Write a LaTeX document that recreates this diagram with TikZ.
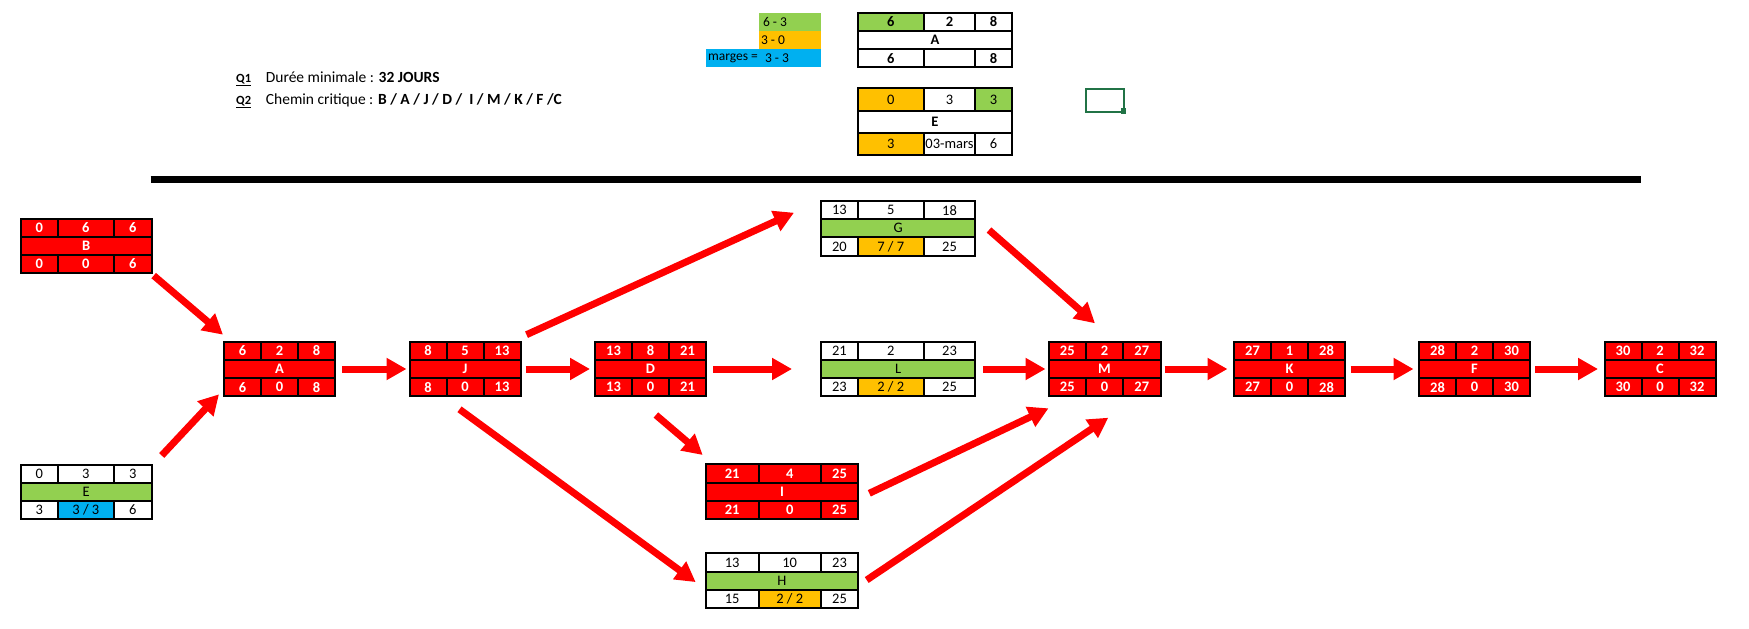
\documentclass[tikz,border=0pt]{standalone}
\usepackage{fontspec}
\setmainfont{Carlito}
\usetikzlibrary{arrows.meta}
\definecolor{xred}{HTML}{FF0000}
\definecolor{xgreen}{HTML}{92D050}
\definecolor{xorange}{HTML}{FFC000}
\definecolor{xblue}{HTML}{00B0F0}
\definecolor{xsel}{HTML}{217346}
\def\rh{18.2}
\newcommand\cellfont{\fontsize{14.5}{15}\selectfont}
\newcommand\geom[5]{\def\gX{#1}\def\gA{#2}\def\gB{#3}\def\gR{#4}\def\gY{#5}}
\newcommand\pert[9]{%
 \begin{scope}[#2]%
 \node[cell,tl,minimum width={\gA-\gX},anchor=north west] (#1-tl) at (\gX,\gY) {#3};%
 \node[cell,tm,minimum width={\gB-\gA},anchor=north west] (#1-tm) at (\gA,\gY) {#4};%
 \node[cell,tr,minimum width={\gR-\gB},anchor=north west] (#1-tr) at (\gB,\gY) {#5};%
 \node[cell,md,minimum width={\gR-\gX},anchor=north west] (#1-md) at (\gX,\gY+\rh) {#6};%
 \node[cell,bl,minimum width={\gA-\gX},anchor=north west] (#1-bl) at (\gX,\gY+2*\rh) {#7};%
 \node[cell,bm,minimum width={\gB-\gA},anchor=north west] (#1-bm) at (\gA,\gY+2*\rh) {#8};%
 \node[cell,br,minimum width={\gR-\gB},anchor=north west] (#1-br) at (\gB,\gY+2*\rh) {#9};%
 \node[frame,minimum width={\gR-\gX},minimum height={3*\rh},anchor=north west] (#1) at (\gX,\gY) {};%
 \end{scope}}
\tikzset{
 cell/.style={draw=black,line width=2pt,inner sep=0pt,outer sep=0pt,minimum height=\rh,fill=white,text=black,font=\cellfont},
 frame/.style={inner sep=0pt,outer sep=0pt},
 tl/.style={},tm/.style={},tr/.style={},md/.style={},bl/.style={},bm/.style={},br/.style={},
 redbox/.style={cell/.append style={fill=xred,text=white,font=\cellfont\bfseries}},
 whitebox/.style={md/.style={fill=xgreen}},
 arr/.style={draw=xred,line width=7pt,-{Triangle[length=20pt,width=21pt]}},
 legtxt/.style={inner sep=0pt,outer sep=0pt,anchor=west,font=\fontsize{13.5}{14}\selectfont},
}
\begin{document}
\begin{tikzpicture}[x=1pt,y=-1pt]
\useasboundingbox (0,0) rectangle (1749,629);
% ---------- top part ----------
\fill[xgreen] (759,12.7) rectangle (821,31);
\fill[xorange] (759,31) rectangle (821,49.3);
\fill[xblue] (706,49.3) rectangle (821,66.7);
\node[legtxt] (l1) at (763,22) {6 - 3};
\node[legtxt] (l2) at (761,40.2) {3 - 0};
\node[legtxt] (l3) at (708,58.2) {marges =};
\node[legtxt] (l4) at (765,58.2) {3 - 3};

\node[inner sep=0pt,anchor=base west,font=\bfseries\fontsize{12.5}{13}\selectfont] (q1) at (236,82.5) {\underline{Q1}};
\node[inner sep=0pt,anchor=base west,font=\fontsize{15.5}{16}\selectfont] (t1) at (265.7,82.3) {Durée minimale : \textbf{32 JOURS}};
\node[inner sep=0pt,anchor=base west,font=\bfseries\fontsize{12.5}{13}\selectfont] (q2) at (236,104.5) {\underline{Q2}};
\node[inner sep=0pt,anchor=base west,font=\fontsize{15.5}{16}\selectfont] (t2) at (265.7,104.3) {Chemin critique : \textbf{B / A / J / D /\ \ I / M / K / F /C}};

\geom{857.7}{924}{975}{1012.3}{12.7}
\pert{tA}{cell/.append style={font=\cellfont\bfseries},tl/.style={fill=xgreen}}{6}{2}{8}{A}{6}{}{8}
\begingroup\def\rh{22.2}
\geom{857.7}{924}{975}{1012.3}{88.3}
\pert{tE}{tl/.style={fill=xorange},tr/.style={fill=xgreen},bl/.style={fill=xorange},md/.style={font=\cellfont\bfseries}}{0}{3}{3}{E}{3}{03-mars}{6}
\endgroup
\draw[xsel,line width=2pt] (1085.7,88.7) rectangle (1124.3,112);
\fill[xsel] (1120.7,108.3) rectangle (1125.7,113.7);

\draw[line width=7pt] (150.7,179.2) -- (1641,179.2);

% ---------- network ----------
\geom{20.7}{57.7}{114}{151.7}{218.5}
\pert{B}{redbox}{0}{6}{6}{B}{0}{0}{6}
\geom{20.7}{57.7}{114}{151.7}{464.5}
\pert{E}{whitebox,bm/.style={fill=xblue}}{0}{3}{3}{E}{3}{3 / 3}{6}
\geom{224}{261}{298}{335}{341.7}
\pert{A}{redbox}{6}{2}{8}{A}{6}{0}{8}
\geom{409.5}{446.5}{483.5}{520.5}{341.7}
\pert{J}{redbox}{8}{5}{13}{J}{8}{0}{13}
\geom{595}{632}{669}{706}{341.7}
\pert{D}{redbox}{13}{8}{21}{D}{13}{0}{21}
\geom{821}{857.7}{923.7}{975.3}{201}
\pert{G}{whitebox,bm/.style={fill=xorange}}{13}{5}{18}{G}{20}{7 / 7}{25}
\geom{821}{857.7}{923.7}{975.3}{341.7}
\pert{L}{whitebox,bm/.style={fill=xorange}}{21}{2}{23}{L}{23}{2 / 2}{25}
\geom{705.7}{758.7}{820.7}{858.3}{464.3}
\pert{I}{redbox}{21}{4}{25}{I}{21}{0}{25}
\geom{705.7}{758.7}{820.7}{858.3}{553.3}
\pert{H}{whitebox,bm/.style={fill=xorange}}{13}{10}{23}{H}{15}{2 / 2}{25}
\geom{1048.5}{1086}{1123}{1160.5}{341.7}
\pert{M}{redbox}{25}{2}{27}{M}{25}{0}{27}
\geom{1234}{1271}{1308}{1345}{341.7}
\pert{K}{redbox}{27}{1}{28}{K}{27}{0}{28}
\geom{1419}{1456}{1493}{1530}{341.7}
\pert{F}{redbox}{28}{2}{30}{F}{28}{0}{30}
\geom{1604.5}{1641.5}{1678.5}{1715.5}{341.7}
\pert{C}{redbox}{30}{2}{32}{C}{30}{0}{32}

% ---------- connectors ----------
\draw[arr] ([shift={(2,2.5)}]B.south east) -- ([shift={(-1,-7)}]A.north west);
\draw[arr] ([shift={(10,-9)}]E.north east) -- ([shift={(-5,-2)}]A.south west);
\draw[arr] ([shift={(7,0)}]A.east) -- ([shift={(-3,0)}]J.west);
\draw[arr] ([shift={(5,0)}]J.east) -- ([shift={(-5,0)}]D.west);
\draw[arr] ([shift={(7,0)}]D.east) -- ([shift={(-29,0)}]L.west);
\draw[arr] ([shift={(7.5,0)}]L.east) -- ([shift={(-3,0)}]M.west);
\draw[arr] ([shift={(4,0)}]M.east) -- ([shift={(-6.5,0)}]K.west);
\draw[arr] ([shift={(5.5,0)}]K.east) -- ([shift={(-5.5,0)}]F.west);
\draw[arr] ([shift={(5,0)}]F.east) -- ([shift={(-6.5,0)}]C.west);
\draw[arr] ([shift={(6,-7)}]J.north east) -- ([shift={(-27,-15.6)}]G.west);
\draw[arr] ([shift={(-5.5,13)}]J.south) -- ([shift={(-10,1.5)}]H.west);
\draw[arr] ([shift={(5.4,18.7)}]D.south) -- ([shift={(-3,-9.3)}]I.north west);
\draw[arr] ([shift={(13.7,1.7)}]G.east) -- ([shift={(-9.5,-18.4)}]M.north);
\draw[arr] ([shift={(11,1.7)}]I.east) -- ([shift={(0,12)}]M.south west);
\draw[arr] ([shift={(8.4,-0.6)}]H.east) -- ([shift={(3.8,21.4)}]M.south);
\end{tikzpicture}
\end{document}
